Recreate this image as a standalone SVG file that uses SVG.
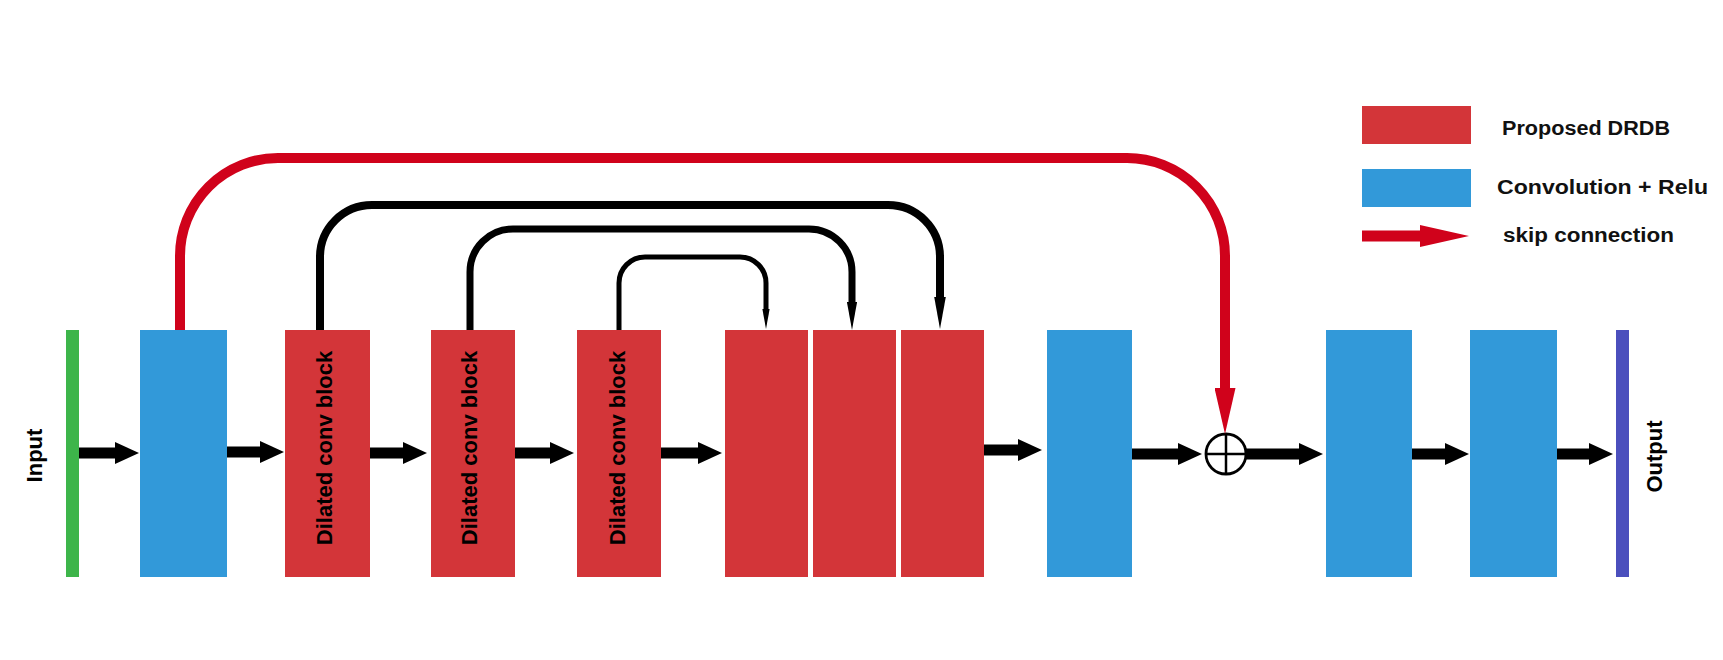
<svg xmlns="http://www.w3.org/2000/svg" width="1723" height="660" viewBox="0 0 1723 660">
<style>
.red{fill:#D33539}
.blue{fill:#3299D9}
.lbl{font-family:"Liberation Sans",Arial,sans-serif;font-weight:bold;font-size:22px;fill:#000}
.leg{font-family:"Liberation Sans",Arial,sans-serif;font-weight:bold;font-size:20px;fill:#111}
.flow{stroke:#000;stroke-width:11;fill:none}
.skipc{stroke:#000;fill:none}
.skip{stroke:#D0021B;stroke-width:10;fill:none}
</style>
<defs>
<marker id="ah" viewBox="0 0 24 22" refX="0" refY="11" markerWidth="24" markerHeight="22" markerUnits="userSpaceOnUse" orient="auto">
<path d="M0,0 L24,11 L0,22 Z" fill="#000"/>
</marker>
<marker id="bh" viewBox="0 0 4 1.45" refX="0" refY="0.725" markerWidth="4" markerHeight="1.45" markerUnits="strokeWidth" orient="auto">
<path d="M0,0 L4,0.725 L0,1.45 Z" fill="#000"/>
</marker>
<marker id="rh" viewBox="0 0 46 21" refX="0" refY="10.5" markerWidth="46" markerHeight="21" markerUnits="userSpaceOnUse" orient="auto">
<path d="M0,0 L46,10.5 L0,21 Z" fill="#D0021B"/>
</marker>
</defs>
<rect width="1723" height="660" fill="#fff"/>

<g id="input">
<rect x="66" y="330" width="13" height="247" fill="#3DB54A"/>
<text class="lbl" transform="translate(42,455.5) rotate(-90)" text-anchor="middle">Input</text>
</g>
<g id="conv1"><rect class="blue" x="140" y="330" width="87" height="247"/></g>
<g id="dil1"><rect class="red" x="285" y="330" width="85" height="247"/>
<text class="lbl" transform="translate(332,448) rotate(-90)" text-anchor="middle">Dilated conv block</text></g>
<g id="dil2"><rect class="red" x="431" y="330" width="84" height="247"/>
<text class="lbl" transform="translate(477,448) rotate(-90)" text-anchor="middle">Dilated conv block</text></g>
<g id="dil3"><rect class="red" x="577" y="330" width="84" height="247"/>
<text class="lbl" transform="translate(625,448) rotate(-90)" text-anchor="middle">Dilated conv block</text></g>
<g id="drdb1"><rect class="red" x="725" y="330" width="83" height="247"/></g>
<g id="drdb2"><rect class="red" x="813" y="330" width="83" height="247"/></g>
<g id="drdb3"><rect class="red" x="901" y="330" width="83" height="247"/></g>
<g id="conv2"><rect class="blue" x="1047" y="330" width="85" height="247"/></g>
<g id="add">
<circle cx="1226" cy="454" r="20" fill="#fff" stroke="#000" stroke-width="2.8"/>
<line x1="1206" y1="454" x2="1246" y2="454" stroke="#000" stroke-width="2.5"/>
<line x1="1226" y1="434" x2="1226" y2="474" stroke="#000" stroke-width="2.5"/>
</g>
<g id="conv3"><rect class="blue" x="1326" y="330" width="86" height="247"/></g>
<g id="conv4"><rect class="blue" x="1470" y="330" width="87" height="247"/></g>
<g id="output">
<rect x="1616" y="330" width="13" height="247" fill="#4B4FBD"/>
<text class="lbl" transform="translate(1662,456.5) rotate(-90)" text-anchor="middle">Output</text>
</g>

<g id="connectors">
<line class="flow" x1="79" y1="453" x2="115" y2="453" marker-end="url(#ah)"/>
<line class="flow" x1="227" y1="452" x2="260" y2="452" marker-end="url(#ah)"/>
<line class="flow" x1="370" y1="453" x2="403" y2="453" marker-end="url(#ah)"/>
<line class="flow" x1="515" y1="453" x2="550" y2="453" marker-end="url(#ah)"/>
<line class="flow" x1="661" y1="453" x2="698" y2="453" marker-end="url(#ah)"/>
<line class="flow" x1="984" y1="450" x2="1018" y2="450" marker-end="url(#ah)"/>
<line class="flow" x1="1132" y1="454" x2="1178" y2="454" marker-end="url(#ah)"/>
<line class="flow" x1="1246" y1="454" x2="1299" y2="454" marker-end="url(#ah)"/>
<line class="flow" x1="1412" y1="454" x2="1445" y2="454" marker-end="url(#ah)"/>
<line class="flow" x1="1557" y1="454" x2="1589" y2="454" marker-end="url(#ah)"/>

<path class="skipc" stroke-width="8" d="M320,330 V257 A52,52 0 0 1 372,205 H888 A52,52 0 0 1 940,257 V297" marker-end="url(#bh)"/>
<path class="skipc" stroke-width="7" d="M470,330 V272 A43,43 0 0 1 513,229 H809 A43,43 0 0 1 852,272 V302" marker-end="url(#bh)"/>
<path class="skipc" stroke-width="5" d="M619,330 V283 A26,26 0 0 1 645,257 H740 A26,26 0 0 1 766,283 V309" marker-end="url(#bh)"/>

<path class="skip" d="M180,330 V256 A98,98 0 0 1 278,158 H1127 A98,98 0 0 1 1225,256 V388" marker-end="url(#rh)"/>
</g>

<g id="legend">
<rect class="red" x="1362" y="106" width="109" height="38"/>
<rect class="blue" x="1362" y="169" width="109" height="38"/>
<path d="M1362,230.5 H1420 V225 L1469,236 L1420,247 V241.5 H1362 Z" fill="#D0021B"/>
<text class="leg" x="1502" y="135" textLength="168" lengthAdjust="spacingAndGlyphs">Proposed DRDB</text>
<text class="leg" x="1497" y="194" textLength="211" lengthAdjust="spacingAndGlyphs">Convolution + Relu</text>
<text class="leg" x="1503" y="242" textLength="171" lengthAdjust="spacingAndGlyphs">skip connection</text>
</g>
</svg>
